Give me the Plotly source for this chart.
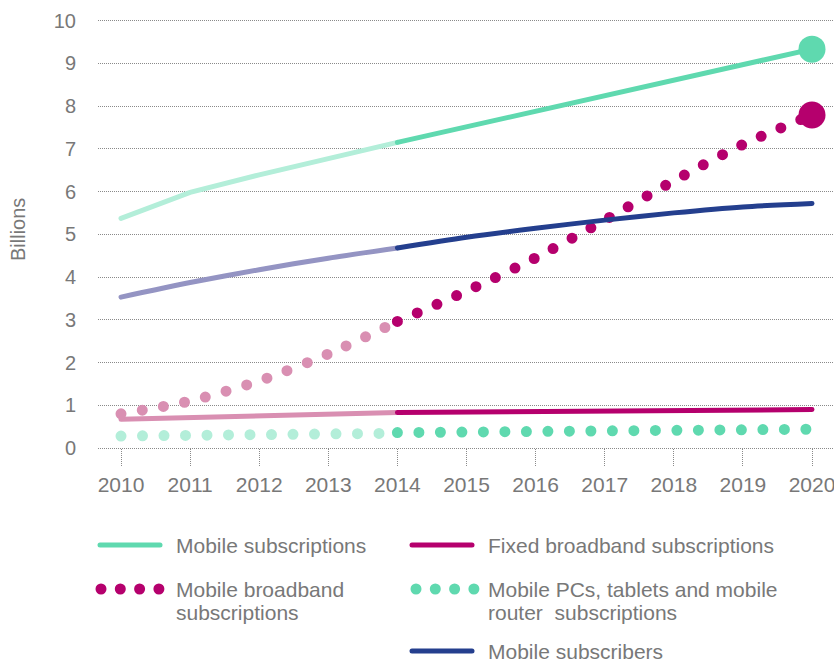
import plotly.graph_objects as go

# ---------------- data ----------------
years_hist = [2010, 2011, 2012, 2013, 2014]
years_fcst = [2014, 2015, 2016, 2017, 2018, 2019, 2020]
tick_years = [2010, 2011, 2012, 2013, 2014, 2015, 2016, 2017, 2018, 2019, 2020]
y_ticks = [0, 1, 2, 3, 4, 5, 6, 7, 8, 9, 10]

mobile_subs_hist = [5.37, 5.98, 6.39, 6.77, 7.15]
mobile_subs_fcst = [7.15, 7.51, 7.88, 8.24, 8.60, 8.97, 9.33]

subscribers_hist = [3.53, 3.87, 4.17, 4.44, 4.68]
subscribers_fcst = [4.68, 4.93, 5.14, 5.33, 5.50, 5.64, 5.72]

fixed_bb_hist = [0.67, 0.71, 0.75, 0.79, 0.83]
fixed_bb_fcst = [0.83, 0.845, 0.86, 0.87, 0.88, 0.89, 0.90]

mobile_bb_hist = [0.80, 1.10, 1.57, 2.20, 2.96]
mobile_bb_fcst = [2.96, 3.67, 4.45, 5.33, 6.25, 7.10, 7.79]

pcs_hist = [0.28, 0.295, 0.31, 0.325, 0.345]
pcs_fcst = [0.36, 0.375, 0.385, 0.395, 0.41, 0.425, 0.44]

legend_labels = {
    "mobile_subs": ["Mobile subscriptions"],
    "mobile_bb": ["Mobile broadband", "subscriptions"],
    "fixed_bb": ["Fixed broadband subscriptions"],
    "pcs": ["Mobile PCs, tablets and mobile", "router  subscriptions"],
    "subscribers": ["Mobile subscribers"],
}

# ---------------- style ----------------
GREEN, GREEN_L = "#5fd9af", "#b3eed9"
MAG, MAG_L = "#b5006d", "#d98fb2"
NAVY, NAVY_L = "#243f8e", "#9494c3"
TEXT = "#787878"
FONT = "Liberation Sans, Arial, sans-serif"
FS = 21

W, H = 834, 663
L, R, T, B = 98, 0, 8, 193
PW, PH = W - L - R, H - T - B
DOT = "0px,21.5px"


def px_x(p):
    return (p - L) / PW


def px_y(p):
    return (H - B - p) / PH


fig = go.Figure()


def line(x, y, color, width=5, dash="solid", shape="linear"):
    fig.add_trace(go.Scatter(
        x=x, y=y, mode="lines", showlegend=False, hoverinfo="skip",
        line=dict(color=color, width=width, dash=dash, shape=shape, smoothing=0.8),
        cliponaxis=False,
    ))


# historical (light) and forecast (dark) parts
line(years_hist, pcs_hist, GREEN_L, 11, DOT)
line(years_fcst, pcs_fcst, GREEN, 11, DOT)
line(years_hist, fixed_bb_hist, MAG_L)
line(years_fcst, fixed_bb_fcst, MAG)
line(years_hist, mobile_bb_hist, MAG_L, 11, DOT, "spline")
line(years_fcst, mobile_bb_fcst, MAG, 11, DOT, "spline")
line(years_hist, subscribers_hist, NAVY_L, 5, "solid", "spline")
line(years_fcst, subscribers_fcst, NAVY, 5, "solid", "spline")
line(years_hist, mobile_subs_hist, GREEN_L)
line(years_fcst, mobile_subs_fcst, GREEN)

# end-point markers
fig.add_trace(go.Scatter(
    x=[years_fcst[-1], years_fcst[-1]],
    y=[mobile_subs_fcst[-1], mobile_bb_fcst[-1]],
    mode="markers", showlegend=False, hoverinfo="skip", cliponaxis=False,
    marker=dict(size=27, color=[GREEN, MAG], line=dict(width=0)),
))

# ---------------- manual legend ----------------
shapes = []
annotations = []


def leg_line(x0, y, color, dash="solid", width=5):
    shapes.append(dict(type="line", xref="paper", yref="paper",
                       x0=px_x(x0), x1=px_x(x0 + 60), y0=px_y(y), y1=px_y(y),
                       line=dict(color=color, width=width, dash=dash)))


def leg_text(x, y, lines):
    for i, t in enumerate(lines):
        annotations.append(dict(text=t, xref="paper", yref="paper",
                                x=px_x(x), y=px_y(y + 23 * i), xanchor="left",
                                yanchor="middle", showarrow=False,
                                font=dict(family=FONT, size=FS, color=TEXT)))


leg_line(100, 545, GREEN)
leg_text(174, 545, legend_labels["mobile_subs"])
leg_line(101, 589, MAG, "0px,19.3px", 11)
leg_text(174, 589, legend_labels["mobile_bb"])
leg_line(412, 545, MAG)
leg_text(486, 545, legend_labels["fixed_bb"])
leg_line(416, 589, GREEN, "0px,19.3px", 11)
leg_text(486, 589, legend_labels["pcs"])
leg_line(412, 651, NAVY)
leg_text(486, 651, legend_labels["subscribers"])

annotations.append(dict(text="Billions", xref="paper", yref="paper",
                        x=px_x(18), y=px_y(230), textangle=-90, showarrow=False,
                        xanchor="center", yanchor="middle",
                        font=dict(family=FONT, size=FS - 1, color=TEXT)))

# ---------------- layout ----------------
px_per_year = 69.1
px_per_unit = 42.75
x0_px, y0_px = 121, 448

fig.update_layout(
    width=W, height=H,
    margin=dict(l=L, r=R, t=T, b=B, pad=0),
    paper_bgcolor="white", plot_bgcolor="white",
    font=dict(family=FONT, size=FS, color=TEXT),
    showlegend=False,
    shapes=shapes, annotations=annotations,
    xaxis=dict(
        range=[2010 - (x0_px - L) / px_per_year, 2010 + (W - R - x0_px) / px_per_year],
        tickmode="array", tickvals=tick_years, ticktext=[str(y) for y in tick_years],
        ticks="outside", ticklen=18, tickwidth=1, tickcolor="#8a8a8a",
        showgrid=False, zeroline=False, showline=False,
        anchor="free", position=px_y(y0_px),
        tickfont=dict(family=FONT, size=FS, color=TEXT),
        ticklabeloverflow="allow",
        fixedrange=True,
    ),
    yaxis=dict(
        range=[-(H - B - y0_px) / px_per_unit, (y0_px - T) / px_per_unit],
        tickmode="array", tickvals=y_ticks,
        showgrid=True, gridcolor="#8a8a8a", gridwidth=1, griddash="1px,1px",
        zeroline=False, showline=False,
        ticks="outside", ticklen=17, tickcolor="rgba(0,0,0,0)",
        tickfont=dict(family=FONT, size=FS - 1, color=TEXT),
        fixedrange=True,
    ),
)

post = (
    "document.body.style.margin='0';"
    "var s=document.createElement('style');"
    "s.textContent='body{margin:0;} .scatterlayer path.js-line, .shapelayer path{stroke-linecap:round;}"
    " path.xtick.ticks{stroke-dasharray:1px,1px;}';"
    "document.head.appendChild(s);"
)

fig.write_html("out.html", post_script=post, config={"displayModeBar": False})
